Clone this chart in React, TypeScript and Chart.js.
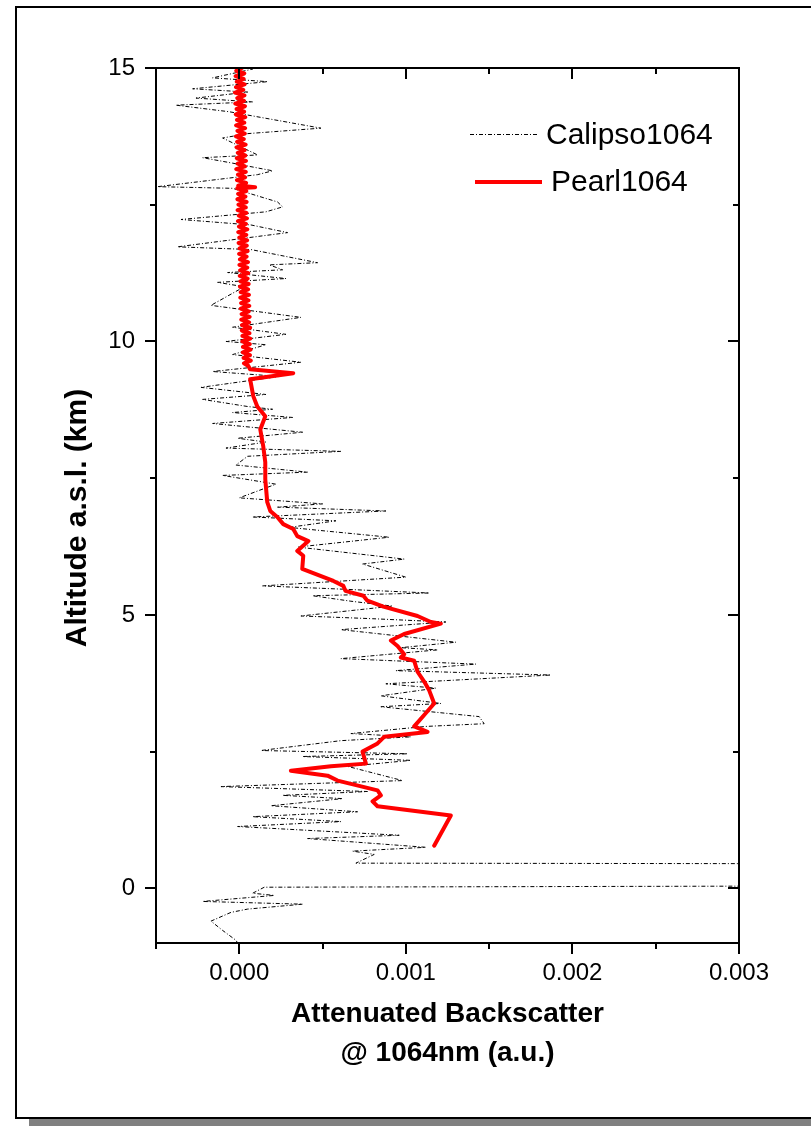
import React, { useEffect, useRef } from "react";
import { Chart, registerables } from "chart.js";

Chart.register(...registerables);

// CALIPSO attenuated backscatter profile at 1064 nm (altitude km, signal a.u.)
const calipsoAltitude = [
  15.05, 14.98, 14.82, 14.75, 14.62, 14.56, 14.45, 14.38, 14.32, 14.2, 13.9, 13.8, 13.72, 13.41, 13.36,
  13.26, 13.12, 13.05, 12.83, 12.8, 12.55, 12.46, 12.37, 12.23, 12.13, 11.99, 11.73, 11.68, 11.44, 11.4,
  11.31, 11.26, 11.15, 11.08, 11.0, 10.66, 10.44, 10.26, 10.13, 10.0, 9.94, 9.76, 9.62, 9.45, 9.36,
  9.16, 9.03, 8.94, 8.81, 8.76, 8.7, 8.61, 8.5, 8.34, 8.23, 8.16, 8.05, 7.99, 7.9, 7.74,
  7.61, 7.55, 7.39, 7.14, 7.03, 6.97, 6.9, 6.79, 6.72, 6.6, 6.53, 6.42, 6.24, 6.02, 5.93,
  5.69, 5.53, 5.47, 5.4, 5.35, 5.25, 5.16, 4.98, 4.93, 4.87, 4.73, 4.5, 4.4, 4.36, 4.2,
  4.1, 3.98, 3.9, 3.74, 3.66, 3.52, 3.38, 3.32, 3.14, 3.01, 2.96, 2.83, 2.77, 2.7, 2.52,
  2.46, 2.41, 2.34, 2.23, 1.97, 1.86, 1.77, 1.7, 1.64, 1.51, 1.4, 1.31, 1.22, 1.13, 0.97,
  0.91, 0.75, 0.68, 0.62, 0.46, 0.44, 0.06, 0.02, -0.09, -0.13, -0.24, -0.29, -0.38, -0.44, -0.6,
  -0.77, -0.95, -1.05,
];
const calipsoSignal = [
  0.00002, 0.00008, -0.00016, 0.00017, -0.00028, 0.00005, -0.00026, 0.00008, -0.00038, -0.00006, 0.00049, 0.00005, -0.0001, 0.00011, -0.00022,
  -0.00004, 0.0002, 0.00011, -0.00049, -0.00004, 0.00023, 0.00026, 0.00016, -0.00035, 0.00007, 0.00029, -0.00037, 0.00007, 0.00047, 0.00018,
  0.00026, -0.00007, 0.00028, -0.00013, 0.00003, -0.00017, 0.00037, -0.00004, 0.00028, -0.00008, 0.00016, -0.00004, 0.00037, -0.00016, 0.00024,
  -0.00023, 0.00016, -0.00022, 0.00005, 0.0002, -0.00004, 0.00032, -0.00016, 0.00038, -0.00001, 0.00016, -0.00008, 0.00061, 0.00005, -0.00002,
  0.00041, -0.0001, 0.00022, 0.0, 0.0005, 0.00023, 0.00088, 0.00008, 0.00058, 0.0003, 0.00053, 0.0009, 0.00035, 0.00099, 0.00074,
  0.001, 0.00014, 0.00062, 0.00114, 0.00044, 0.00067, 0.00092, 0.00037, 0.0008, 0.00124, 0.00061, 0.0013, 0.00097, 0.00119, 0.00061,
  0.00142, 0.00094, 0.00187, 0.00088, 0.00118, 0.00085, 0.00121, 0.00085, 0.00144, 0.00147, 0.00112, 0.00067, 0.00103, 0.00061, 0.00013,
  0.00101, 0.00038, 0.00103, 0.00065, 0.00098, -0.00011, 0.00077, 0.00026, 0.00062, 0.00019, 0.00071, 0.00008, 0.00061, -0.00001, 0.00096,
  0.00041, 0.00112, 0.00068, 0.00081, 0.0007, 0.006, 0.006, 0.00015, 0.00008, 0.00021, -0.00022, 0.00038, 0.00005, -0.00005, -0.00017,
  -0.0001, -0.00002, 0.0,
];

// PEARL lidar attenuated backscatter profile at 1064 nm
const pearlAltitude = [
  15.0, 14.95, 14.9, 14.85, 14.8, 14.75, 14.7, 14.65, 14.6, 14.55, 14.5, 14.45, 14.4, 14.35, 14.3,
  14.25, 14.2, 14.15, 14.1, 14.05, 14.0, 13.95, 13.9, 13.85, 13.8, 13.75, 13.7, 13.65, 13.6, 13.55,
  13.5, 13.45, 13.4, 13.35, 13.3, 13.25, 13.2, 13.15, 13.1, 13.05, 13.0, 12.95, 12.9, 12.85, 12.82,
  12.8, 12.75, 12.7, 12.65, 12.6, 12.55, 12.5, 12.45, 12.4, 12.35, 12.3, 12.25, 12.2, 12.15, 12.1,
  12.05, 12.0, 11.95, 11.9, 11.85, 11.8, 11.75, 11.7, 11.65, 11.6, 11.55, 11.5, 11.45, 11.4, 11.35,
  11.3, 11.25, 11.2, 11.15, 11.1, 11.05, 11.0, 10.95, 10.9, 10.85, 10.8, 10.75, 10.7, 10.65, 10.6,
  10.55, 10.5, 10.45, 10.4, 10.35, 10.3, 10.25, 10.2, 10.15, 10.1, 10.05, 10.0, 9.95, 9.9, 9.85,
  9.8, 9.75, 9.7, 9.65, 9.6, 9.55, 9.49, 9.42, 9.31, 9.0,
  8.81, 8.63, 8.39, 8.08, 7.79, 7.48, 7.06, 6.9, 6.79, 6.66, 6.57, 6.44, 6.35, 6.17, 6.08,
  5.84, 5.62, 5.53, 5.44, 5.35, 5.26, 5.15, 4.98, 4.87, 4.84, 4.65, 4.53, 4.43, 4.28, 4.22,
  4.16, 3.96, 3.78, 3.62, 3.38, 3.17, 2.96, 2.86, 2.77, 2.65, 2.5, 2.28, 2.23, 2.15, 2.06,
  1.97, 1.79, 1.7, 1.59, 1.5, 1.33, 0.78,
];
const pearlSignal = [
  1.5e-5, -1.8e-5, 3.0e-5, -2.2e-5, 2.6e-5, -1.5e-5, 3.2e-5, -2.0e-5, 2.4e-5, -2.6e-5, 3.1e-5, -1.2e-5, 2.8e-5, -2.4e-5, 3.4e-5,
  -1.6e-5, 2.9e-5, -2.1e-5, 3.6e-5, -1.4e-5, 3.0e-5, -1.9e-5, 3.5e-5, -1.1e-5, 3.3e-5, -2.0e-5, 2.7e-5, -1.3e-5, 3.8e-5, -1.7e-5,
  3.2e-5, -0.9e-5, 3.6e-5, -1.5e-5, 4.0e-5, -1.0e-5, 3.4e-5, -1.8e-5, 3.9e-5, -0.8e-5, 3.5e-5, -1.4e-5, 4.1e-5, -0.6e-5, 9.5e-5,
  -1.2e-5, 4.2e-5, -0.7e-5, 3.7e-5, -1.1e-5, 4.4e-5, -0.5e-5, 3.9e-5, -1.0e-5, 4.3e-5, -0.3e-5, 4.6e-5, -0.8e-5, 4.0e-5, -0.2e-5,
  4.8e-5, -0.6e-5, 4.2e-5, 0.0, 4.7e-5, -0.4e-5, 4.5e-5, 0.2e-5, 5.0e-5, -0.1e-5, 4.4e-5, 0.4e-5, 5.2e-5, 0.1e-5, 4.8e-5,
  0.5e-5, 5.4e-5, 0.3e-5, 5.0e-5, 0.7e-5, 5.6e-5, 0.4e-5, 5.3e-5, 0.9e-5, 5.8e-5, 0.6e-5, 5.5e-5, 1.1e-5, 6.0e-5, 0.9e-5,
  5.7e-5, 1.4e-5, 6.2e-5, 1.2e-5, 5.9e-5, 1.6e-5, 6.5e-5, 1.5e-5, 6.1e-5, 1.9e-5, 6.6e-5, 1.8e-5, 6.3e-5, 2.2e-5, 6.8e-5,
  2.1e-5, 6.4e-5, 2.6e-5, 6.9e-5, 2.8e-5, 5.5e-5, 6.5e-5, 0.000324, 0.000065, 0.000084,
  0.000108, 0.000156, 0.000126, 0.000144, 0.000156, 0.000156, 0.000168, 0.000186, 0.000228, 0.000264, 0.000324, 0.000348, 0.000415, 0.000348, 0.000384,
  0.000378, 0.000565, 0.000625, 0.000637, 0.000745, 0.000769, 0.000865, 0.00107, 0.00115, 0.00121, 0.00099, 0.00091, 0.00095, 0.00099, 0.00097,
  0.00105, 0.00107, 0.00111, 0.00114, 0.00117, 0.00111, 0.00105, 0.00113, 0.00087, 0.00083, 0.00074, 0.00076, 0.00055, 0.00031, 0.00053,
  0.00059, 0.00083, 0.00085, 0.0008, 0.00083, 0.00127, 0.00117,
];

const xMajorTicks = [0, 0.001, 0.002, 0.003];
const xMinorTicks = [-0.0005, 0.0005, 0.0015, 0.0025];
const yMajorTicks = [0, 5, 10, 15];
const yMinorTicks = [2.5, 7.5, 12.5];

const seriesNames = ["Calipso1064", "Pearl1064"];
const xTitle = ["Attenuated Backscatter", "@ 1064nm (a.u.)"];
const yTitle = "Altitude a.s.l. (km)";

const FONT = '"Liberation Sans", Arial, Helvetica, sans-serif';
const CALIPSO_DASH = [4, 2, 1, 2];

// Axis frame, tick marks (outer on bottom/left, inner on top/right), y title and legend
const decorations = {
  id: "decorations",
  afterDatasetsDraw(chart: any) {
    const { ctx, chartArea, scales } = chart;
    const { left, right, top, bottom } = chartArea;
    const xs = scales.x;
    const ys = scales.y;
    ctx.save();
    ctx.strokeStyle = "#000";
    ctx.lineWidth = 2;
    ctx.setLineDash([]);
    ctx.strokeRect(left, top, right - left, bottom - top);

    const major = 11;
    const minor = 6;
    ctx.beginPath();
    const xTick = (v: number, len: number) => {
      const px = Math.round(xs.getPixelForValue(v));
      ctx.moveTo(px, bottom);
      ctx.lineTo(px, bottom + len);
      ctx.moveTo(px, top);
      ctx.lineTo(px, top + len);
    };
    const yTick = (v: number, len: number) => {
      const py = Math.round(ys.getPixelForValue(v));
      ctx.moveTo(left, py);
      ctx.lineTo(left - len, py);
      ctx.moveTo(right, py);
      ctx.lineTo(right - len, py);
    };
    xMajorTicks.forEach((v) => xTick(v, major));
    xMinorTicks.forEach((v) => xTick(v, minor));
    yMajorTicks.forEach((v) => yTick(v, major));
    yMinorTicks.forEach((v) => yTick(v, minor));
    ctx.stroke();

    // y axis title
    ctx.fillStyle = "#000";
    ctx.font = `bold 30px ${FONT}`;
    ctx.textAlign = "center";
    ctx.textBaseline = "middle";
    ctx.save();
    ctx.translate(78, 518);
    ctx.rotate(-Math.PI / 2);
    ctx.fillText(yTitle, 0, 0);
    ctx.restore();

    // legend
    ctx.lineWidth = 1;
    ctx.setLineDash(CALIPSO_DASH);
    ctx.beginPath();
    ctx.moveTo(470, 134.5);
    ctx.lineTo(537, 134.5);
    ctx.stroke();
    ctx.setLineDash([]);
    ctx.strokeStyle = "#ff0000";
    ctx.lineWidth = 4;
    ctx.beginPath();
    ctx.moveTo(475, 182);
    ctx.lineTo(542, 182);
    ctx.stroke();
    ctx.font = `30px ${FONT}`;
    ctx.textAlign = "left";
    ctx.fillText(seriesNames[0], 546, 136);
    ctx.fillText(seriesNames[1], 551, 183);
    ctx.restore();
  },
};

export default function App() {
  const canvasRef = useRef<HTMLCanvasElement | null>(null);

  useEffect(() => {
    if (!canvasRef.current) return;
    const calipso = calipsoAltitude.map((a, i) => ({ x: calipsoSignal[i], y: a }));
    const pearl = pearlAltitude.map((a, i) => ({ x: pearlSignal[i], y: a }));
    const tickFont = { family: FONT, size: 24 };

    const chart = new Chart(canvasRef.current, {
      type: "scatter",
      data: {
        datasets: [
          {
            label: seriesNames[0],
            data: calipso,
            showLine: true,
            borderColor: "#000",
            borderWidth: 1,
            borderDash: CALIPSO_DASH,
            pointRadius: 0,
            order: 2,
          },
          {
            label: seriesNames[1],
            data: pearl,
            showLine: true,
            borderColor: "#ff0000",
            borderWidth: 4,
            borderJoinStyle: "round",
            borderCapStyle: "round",
            pointRadius: 0,
            order: 1,
          },
        ],
      },
      options: {
        responsive: false,
        animation: false,
        layout: { padding: { top: 68, right: 72, left: 0, bottom: 0 } },
        plugins: { legend: { display: false }, tooltip: { enabled: false } },
        scales: {
          x: {
            type: "linear",
            position: "bottom",
            min: -0.0005,
            max: 0.003,
            afterBuildTicks: (s: any) => {
              s.ticks = xMajorTicks.map((v) => ({ value: v }));
            },
            afterFit: (s: any) => {
              s.height = 183;
            },
            ticks: {
              callback: (v: any) => Number(v).toFixed(3),
              font: tickFont,
              color: "#000",
              padding: 16,
              maxRotation: 0,
              autoSkip: false,
            },
            grid: { display: false, drawTicks: false },
            border: { display: false },
            title: {
              display: true,
              text: xTitle,
              color: "#000",
              font: { family: FONT, size: 28, weight: "bold", lineHeight: 1.4 },
              padding: { top: 0, bottom: 53 },
            },
          },
          y: {
            type: "linear",
            position: "left",
            min: -1,
            max: 15,
            afterBuildTicks: (s: any) => {
              s.ticks = yMajorTicks.map((v) => ({ value: v }));
            },
            afterFit: (s: any) => {
              s.width = 156;
            },
            ticks: {
              callback: (v: any) => String(v),
              font: tickFont,
              color: "#000",
              padding: 21,
              autoSkip: false,
            },
            grid: { display: false, drawTicks: false },
            border: { display: false },
          },
        },
      },
      plugins: [decorations],
    } as any);
    return () => chart.destroy();
  }, []);

  return (
    <div
      style={{
        position: "fixed",
        left: 0,
        top: 0,
        width: 811,
        height: 1126,
        overflow: "hidden",
        background: "#fff",
      }}
    >
      <div
        style={{
          position: "absolute",
          left: 15,
          top: 6,
          width: 900,
          height: 1109,
          border: "2px solid #000",
          background: "#fff",
          boxShadow: "14px 10px 0 #808080",
        }}
      />
      <canvas
        ref={canvasRef}
        width={811}
        height={1126}
        style={{ position: "absolute", left: 0, top: 0, width: 811, height: 1126 }}
      />
    </div>
  );
}
